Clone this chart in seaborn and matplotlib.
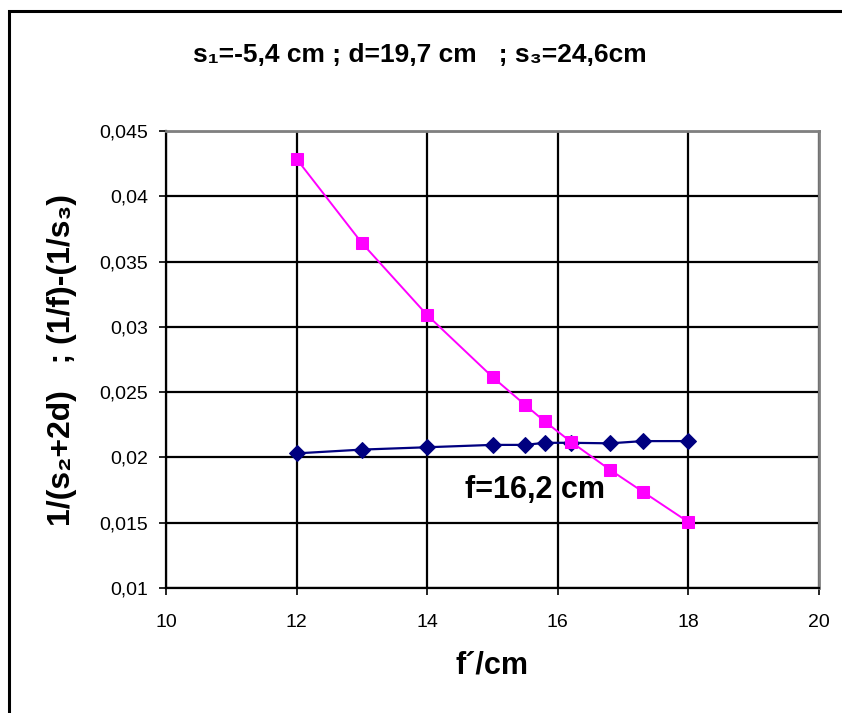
import matplotlib
matplotlib.use("Agg")
import matplotlib.pyplot as plt
import seaborn as sns
import pandas as pd
from matplotlib.patches import Rectangle

# data
f_values = [12, 13, 14, 15, 15.5, 15.8, 16.2, 16.8, 17.3, 18]
inv_s2_2d = [0.02031, 0.0206, 0.02078, 0.02096, 0.02096, 0.02112, 0.02112, 0.02108, 0.02125, 0.02125]
inv_f_minus_inv_s3 = [0.04286, 0.03642, 0.0309, 0.02616, 0.02402, 0.02276, 0.02120, 0.01905, 0.01738, 0.01505]
x_ticks = [10, 12, 14, 16, 18, 20]
y_ticks = [0.01, 0.015, 0.02, 0.025, 0.03, 0.035, 0.04, 0.045]
y_tick_labels = ["0,01", "0,015", "0,02", "0,025", "0,03", "0,035", "0,04", "0,045"]
title = "s\u2081=-5,4 cm ; d=19,7 cm   ; s\u2083=24,6cm"
ylabel = "1/(s\u2082+2d)   ; (1/f)-(1/s\u2083)"
xlabel = "f\u00b4/cm"
annotation = "f=16,2 cm"

sns.set_style("white")
plt.rcParams['font.family'] = ['Liberation Sans', 'DejaVu Sans']
plt.rcParams['text.color'] = 'black'
plt.rcParams['axes.labelcolor'] = 'black'
plt.rcParams['xtick.color'] = 'black'
plt.rcParams['ytick.color'] = 'black'

df_blue = pd.DataFrame({"f": f_values, "y": inv_s2_2d})
df_mag = pd.DataFrame({"f": f_values, "y": inv_f_minus_inv_s3})

fig = plt.figure(figsize=(8.42, 7.13), dpi=100)
ax = fig.add_axes([166/842, 1-588/713, (819-166)/842, (588-131)/713])

# outer frame
fig.patches.append(Rectangle((9/842, -0.05), 1.2, 1 - 11/713 + 0.05, transform=fig.transFigure,
                             fill=False, edgecolor='black', linewidth=2.2, zorder=0))

sns.lineplot(data=df_blue, x="f", y="y", sort=False, ax=ax, color="#000080", linewidth=1.6,
             marker="D", markersize=8, markeredgecolor="#000080", zorder=3)
sns.lineplot(data=df_mag, x="f", y="y", sort=False, ax=ax, color="#FF00FF", linewidth=1.4,
             marker="s", markersize=8.5, markeredgecolor="#FF00FF", zorder=4)

ax.set_xlim(10, 20)
ax.set_ylim(0.01, 0.045)
ax.set_xticks(x_ticks)
ax.set_xticklabels([str(t) for t in x_ticks], fontsize=14)
ax.set_yticks(y_ticks)
ax.set_yticklabels(y_tick_labels, fontsize=14)
ax.grid(True, color='black', linewidth=1.6)
ax.set_axisbelow(True)
ax.tick_params(axis='both', which='major', direction='out', length=5, width=1.2,
               color='black', labelcolor='black', pad=8)
ax.tick_params(axis='x', pad=14)
ax.yaxis.set_tick_params(left=True)
ax.xaxis.set_tick_params(bottom=True)
for s in ['top', 'right']:
    ax.spines[s].set_color('#808080')
    ax.spines[s].set_linewidth(2)
for s in ['left', 'bottom']:
    ax.spines[s].set_color('black')
    ax.spines[s].set_linewidth(1.6)

ax.set_xlabel(xlabel, fontsize=22, fontweight='bold', labelpad=14, color='black')
ax.set_ylabel(ylabel, fontsize=23, fontweight='bold', labelpad=16, color='black')
fig.text(420/842, 1-55/713, title, ha='center', va='center', fontsize=19, fontweight='bold', color='black')
ax.text(15.65, 0.0175, annotation, ha='center', va='center', fontsize=22, fontweight='bold',
        color='black', zorder=5)

fig.savefig("out.png", dpi=100, facecolor='white')
